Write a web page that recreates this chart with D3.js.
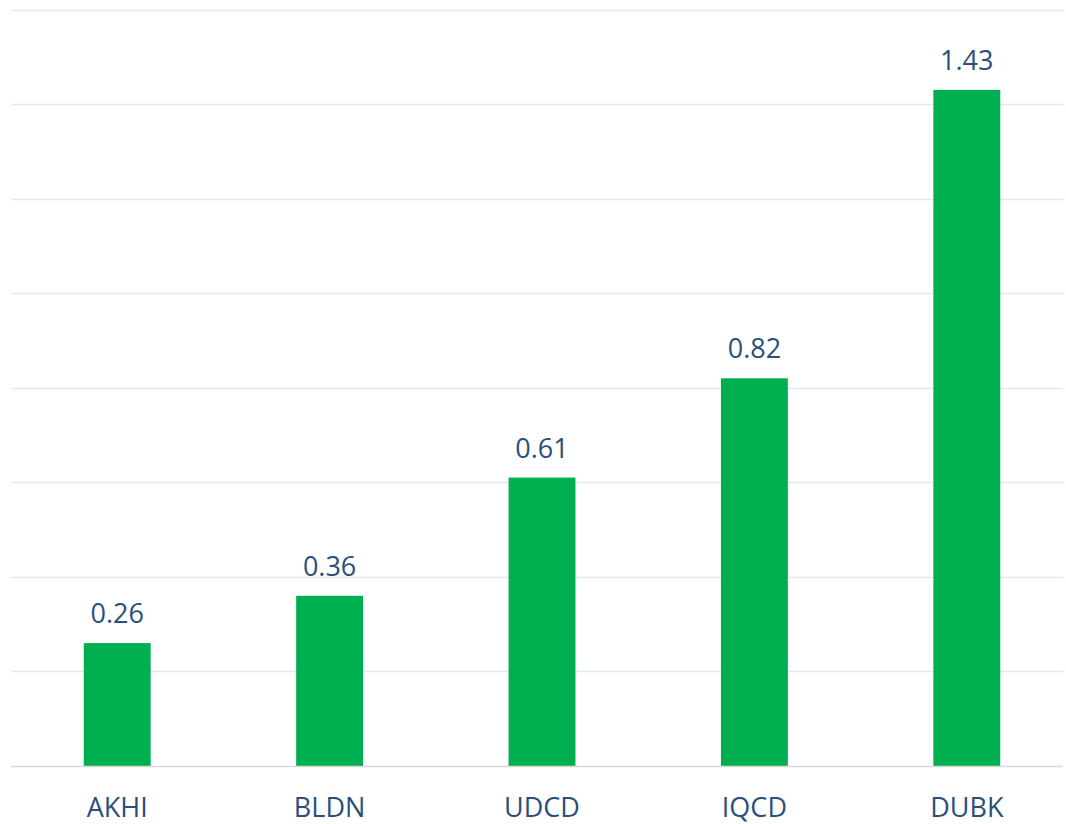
<!DOCTYPE html>
<html>
<head>
<meta charset="utf-8">
<script src="https://cdn.jsdelivr.net/npm/d3@7"></script>
<style>
  body { margin: 0; background: #fff; }
  text { font-family: "Open Sans", "Liberation Sans", sans-serif; }
</style>
</head>
<body>
<svg width="1066" height="824"></svg>
<script>
// data
const categories = ["AKHI", "BLDN", "UDCD", "IQCD", "DUBK"];
const values = [0.26, 0.36, 0.61, 0.82, 1.43];
const gridTicks = [0.2, 0.4, 0.6, 0.8, 1.0, 1.2, 1.4, 1.6];

const svg = d3.select("svg");

// scales
const x = d3.scaleBand()
  .domain(categories)
  .range([11, 1073])
  .paddingInner(0.685)
  .paddingOuter(0.3425);

const y = d3.scaleLinear()
  .domain([0, 1.6])
  .range([766, 9.5]);

// grid lines
svg.append("g")
  .selectAll("line")
  .data(gridTicks)
  .join("line")
  .attr("x1", 11)
  .attr("x2", 1063)
  .attr("y1", d => Math.round(y(d)) + 0.5)
  .attr("y2", d => Math.round(y(d)) + 0.5)
  .attr("stroke", "#dfe8f3")
  .attr("stroke-width", 1.5);

// bars
svg.append("g")
  .selectAll("rect")
  .data(values)
  .join("rect")
  .attr("x", (d, i) => x(categories[i]))
  .attr("y", d => y(d))
  .attr("width", x.bandwidth())
  .attr("height", d => y(0) - y(d))
  .attr("fill", "#00b050");

// baseline
svg.append("line")
  .attr("x1", 11)
  .attr("x2", 1063)
  .attr("y1", y(0) + 0.5)
  .attr("y2", y(0) + 0.5)
  .attr("stroke", "#d9d9d9")
  .attr("stroke-width", 1.5);

// value labels
svg.append("g")
  .selectAll("text")
  .data(values)
  .join("text")
  .attr("x", (d, i) => x(categories[i]) + x.bandwidth() / 2)
  .attr("y", d => y(d) - 20)
  .attr("text-anchor", "middle")
  .attr("font-size", 27)
  .attr("fill", "#2b4f7c")
  .text(d => d.toFixed(2));

// category labels
svg.append("g")
  .selectAll("text")
  .data(categories)
  .join("text")
  .attr("x", d => x(d) + x.bandwidth() / 2)
  .attr("y", 817)
  .attr("text-anchor", "middle")
  .attr("font-size", 27)
  .attr("fill", "#2b4f7c")
  .text(d => d);
</script>
</body>
</html>
